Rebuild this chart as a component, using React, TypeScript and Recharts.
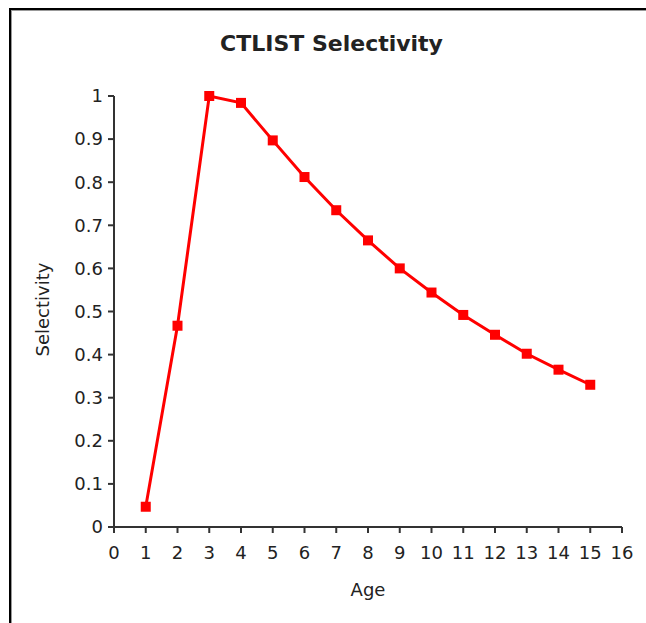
import { LineChart, Line, XAxis, YAxis } from 'recharts';

const ages = [1, 2, 3, 4, 5, 6, 7, 8, 9, 10, 11, 12, 13, 14, 15];
const selectivity = [0.047, 0.467, 1.0, 0.984, 0.897, 0.812, 0.735, 0.665, 0.6, 0.544, 0.492, 0.446, 0.402, 0.365, 0.33];
const xTicks = [0, 1, 2, 3, 4, 5, 6, 7, 8, 9, 10, 11, 12, 13, 14, 15, 16];
const yTicks = [0, 0.1, 0.2, 0.3, 0.4, 0.5, 0.6, 0.7, 0.8, 0.9, 1];

const data = ages.map((age, i) => ({ age, sel: selectivity[i] }));

const font = '"DejaVu Sans", Verdana, sans-serif';
const axisColor = '#333';

function SquareDot(props: any) {
  const { cx, cy } = props;
  if (cx == null || cy == null) return null;
  return <rect x={cx - 5} y={cy - 5} width={10} height={10} fill="#ff0000" />;
}

function YLabel(props: any) {
  const vb = props.viewBox || { x: 0, y: 0, width: 0, height: 0 };
  const x = vb.x + 49;
  const y = vb.y + vb.height / 2 - 2;
  return (
    <text x={x} y={y} transform={`rotate(-90, ${x}, ${y})`} textAnchor="middle"
      fontFamily={font} fontSize={18} fill="#222">
      Selectivity
    </text>
  );
}

export default function App() {
  return (
    <div style={{ position: 'absolute', left: 0, top: 0, width: 646, height: 623, background: '#fff', overflow: 'hidden' }}>
      <div style={{
        position: 'absolute', left: 9, top: 8, width: 700, height: 700,
        borderTop: '2px solid #000', borderLeft: '2px solid #000',
        boxShadow: 'inset 1px 1px 0 #999',
      }} />
      <div style={{
        position: 'absolute', left: 0, top: 31, width: 663, textAlign: 'center',
        fontFamily: font, fontWeight: 'bold', fontSize: 22, lineHeight: '26px', color: '#222',
      }}>
        CTLIST Selectivity
      </div>
      <div style={{ position: 'absolute', left: 0, top: 0 }}>
        <LineChart width={646} height={623} data={data} margin={{ top: 96, right: 24, left: 0, bottom: 0 }}>
          <XAxis
            dataKey="age"
            type="number"
            domain={[0, 16]}
            ticks={xTicks}
            interval={0}
            height={96}
            tickSize={6}
            tickMargin={13}
            stroke={axisColor}
            strokeWidth={2}
            tick={{ fill: '#222', fontSize: 18, fontFamily: font }}
            label={{ value: 'Age', position: 'insideBottom', offset: 27, fill: '#222', fontSize: 18, fontFamily: font }}
          />
          <YAxis
            type="number"
            domain={[0, 1]}
            ticks={yTicks}
            interval={0}
            width={114}
            tickSize={6}
            tickMargin={5}
            stroke={axisColor}
            strokeWidth={2}
            tick={{ fill: '#222', fontSize: 18, fontFamily: font }}
            label={<YLabel />}
          />
          <Line
            dataKey="sel"
            stroke="#ff0000"
            strokeWidth={3}
            dot={<SquareDot />}
            activeDot={false}
            isAnimationActive={false}
          />
        </LineChart>
      </div>
    </div>
  );
}
